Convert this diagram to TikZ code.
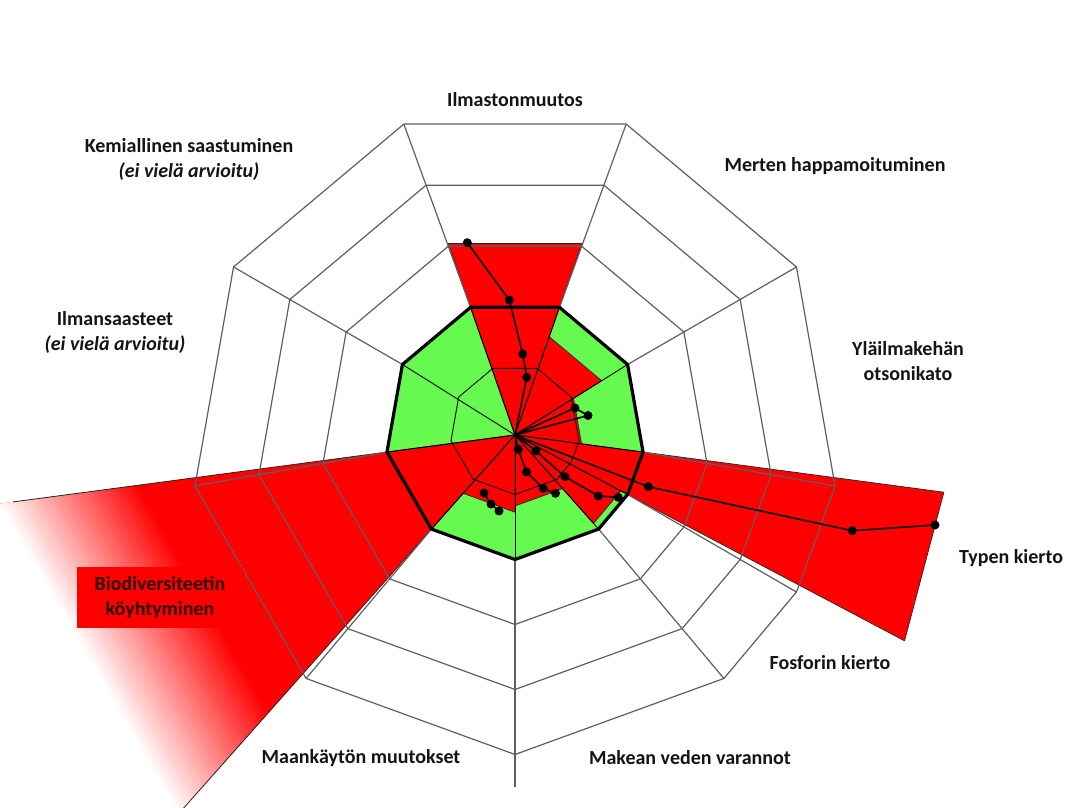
\documentclass[tikz,border=0pt]{standalone}
\usepackage{fontspec}
\setmainfont{Carlito}
\usetikzlibrary{calc}
\definecolor{wred}{RGB}{255,0,0}
\definecolor{sgreen}{RGB}{102,250,80}
\definecolor{gridgray}{RGB}{95,95,95}
\definecolor{labeltxt}{RGB}{20,20,20}
\definecolor{darkred}{RGB}{45,0,0}
\begin{document}
\begin{tikzpicture}[x=1pt,y=1pt,
  gridline/.style={draw=gridgray, line width=1.2pt},
  innerline/.style={draw=black, line width=0.9pt},
  boundary/.style={draw=black, line width=3.2pt, line join=miter},
  wedge/.style={fill=wred, draw=black!85, line width=0.7pt, line join=round},
  wedgeedge/.style={draw=black!85, line width=0.8pt},
  dataline/.style={draw=black, line width=1.6pt, line join=round},
  dot/.style={circle, fill=black, inner sep=0pt, minimum size=9pt},
  lab/.style={font=\bfseries\fontsize{20}{25}\selectfont, text=labeltxt, align=center, inner sep=1pt},
]
\clip (0,0) rectangle (1081,808);
\fill[white] (0,0) rectangle (1081,808);
\coordinate (G) at (515,378.5);
\coordinate (W) at (515,373);
\foreach \a in {30,70,110,150,190,230,270,310,330,350}{
  \coordinate (V\a) at ($(G)+(\a:130)$);
  \coordinate (O\a) at ($(G)+(\a:325)$);
}
% safe zone
\fill[sgreen, shift={(G)}] (30:130) -- (70:130) -- (110:130) -- (150:130) -- (190:130) -- (230:130) -- (270:130) -- (310:130) -- (330:130) -- (350:130) -- cycle;
% biodiversity wedge with fade
\begin{scope}
  \clip (W) -- ($(W)!6!(V190)$) -- ($(W)!6!(V230)$) -- cycle;
  \fill[wred] (0,0) rectangle (1081,808);
  \begin{scope}[shift={(W)}, rotate=210]
    \foreach \k in {0,...,39}{
      \pgfmathsetmacro\pc{100-2.5*\k}
      \fill[wred!\pc!white] ({350+3.25*\k},-600) rectangle ({350+3.25*(\k+1)+0.6},600);
    }
    \fill[white] (480,-600) rectangle (1000,600);
  \end{scope}
\end{scope}
\coordinate (B1) at ($(W)!3.92!(V190)$);
\coordinate (B2) at ($(W)!4.3!(V230)$);
\draw[wedgeedge] (B1) -- (W) -- (B2);
% other wedges
\filldraw[wedge] (W) -- ($(W)!1.5!(V70)$) -- ($(W)!1.5!(V110)$) -- cycle;
\filldraw[wedge] (W) -- ($(W)!0.77!(V30)$) -- ($(W)!0.77!(V70)$) -- cycle;
\filldraw[wedge] (W) -- ($(W)!0.52!(V350)$) -- ($(W)!0.52!(V30)$) -- cycle;
\filldraw[wedge] (W) -- ($(W)!3.35!(V350)$) -- ($(W)!3.46!(V330)$) -- cycle;
\filldraw[wedge] (W) -- ($(W)!0.94!(V310)$) -- ($(W)!0.94!(V330)$) -- cycle;
\filldraw[wedge] (W) -- ($(W)!0.57!(V270)$) -- ($(W)!0.57!(V310)$) -- cycle;
\filldraw[wedge] (W) -- ($(W)!0.62!(V230)$) -- ($(W)!0.62!(V270)$) -- cycle;
% grid
\foreach \r in {195,260,325}
  \draw[gridline, shift={(G)}] (30:\r) -- (70:\r) -- (110:\r) -- (150:\r) -- (190:\r) -- (230:\r) -- (270:\r) -- (310:\r) -- (330:\r) -- (350:\r) -- cycle;
\draw[innerline, shift={(G)}] (30:65) -- (70:65) -- (110:65) -- (150:65) -- (190:65) -- (230:65) -- (270:65) -- (310:65) -- (330:65) -- (350:65) -- cycle;
\foreach \a in {30,70,110,150,190,230,270,310,330,350}{
  \draw[innerline] (W) -- (V\a);
  \draw[gridline] (V\a) -- (O\a);
}
\coordinate (Bot) at ($(G)+(270:358)$);
\draw[gridline] (O270) -- (Bot);
% boundary
\draw[boundary, shift={(G)}] (30:130) -- (70:130) -- (110:130) -- (150:130) -- (190:130) -- (230:130) -- (270:130) -- (310:130) -- (330:130) -- (350:130) -- cycle;
% data: climate
\node[dot] (c1) at (526.7,430.7) {};
\node[dot] (c2) at (522.7,454) {};
\node[dot] (c3) at (509.3,508) {};
\node[dot] (c4) at (467.3,565.3) {};
\draw[dataline] (W) -- (c1.center) -- (c2.center) -- (c3.center) -- (c4.center);
% ozone
\node[dot] (z1) at (575,400) {};
\node[dot] (z2) at (588,392.5) {};
\draw[dataline] (W) -- (z1.center) -- (z2.center) -- cycle;
% nitrogen
\node[dot] (n1) at (648.3,321.3) {};
\node[dot] (n2) at (852.3,277.3) {};
\node[dot] (n3) at (935,283) {};
\draw[dataline] (W) -- (n1.center) -- (n2.center) -- (n3.center);
% phosphorus
\node[dot] (p1) at (536,357) {};
\node[dot] (p2) at (565,331.3) {};
\node[dot] (p3) at (598.3,312) {};
\node[dot] (p4) at (618.3,310.7) {};
\draw[dataline] (W) -- (p1.center) -- (p2.center) -- (p3.center) -- (p4.center);
% freshwater
\node[dot] (f1) at (518.3,358.7) {};
\node[dot] (f2) at (526.5,336) {};
\node[dot] (f3) at (543.3,319.7) {};
\node[dot] (f4) at (555.5,314.7) {};
\draw[dataline] (W) -- (f1.center) -- (f2.center) -- (f3.center) -- (f4.center);
% land use
\node[dot] (l1) at (484,315) {};
\node[dot] (l2) at (491,304) {};
\node[dot] (l3) at (499,297) {};
\draw[dataline] (l1.center) -- (l2.center) -- (l3.center);
% labels
\node[lab] (ilm) at (515,708) {Ilmastonmuutos};
\node[lab] (kem) at (189,648.5) {Kemiallinen saastuminen\\\textit{(ei vielä arvioitu)}};
\node[lab] (mer) at (835,642) {Merten happamoituminen};
\node[lab] (ilms) at (115,476) {Ilmansaasteet\\\textit{(ei vielä arvioitu)}};
\node[lab] (yla) at (908,446.5) {Yläilmakehän\\otsonikato};
\node[lab] (typ) at (1011,250) {Typen kierto};
\node[lab] (fos) at (830,145) {Fosforin kierto};
\node[lab] (mak) at (690,50) {Makean veden varannot};
\node[lab] (maa) at (361,50) {Maankäytön muutokset};
\node[lab, text=darkred, fill=wred, minimum width=166pt, minimum height=61pt] (bio) at (160,210) {Biodiversiteetin\\köyhtyminen};
\end{tikzpicture}
\end{document}
